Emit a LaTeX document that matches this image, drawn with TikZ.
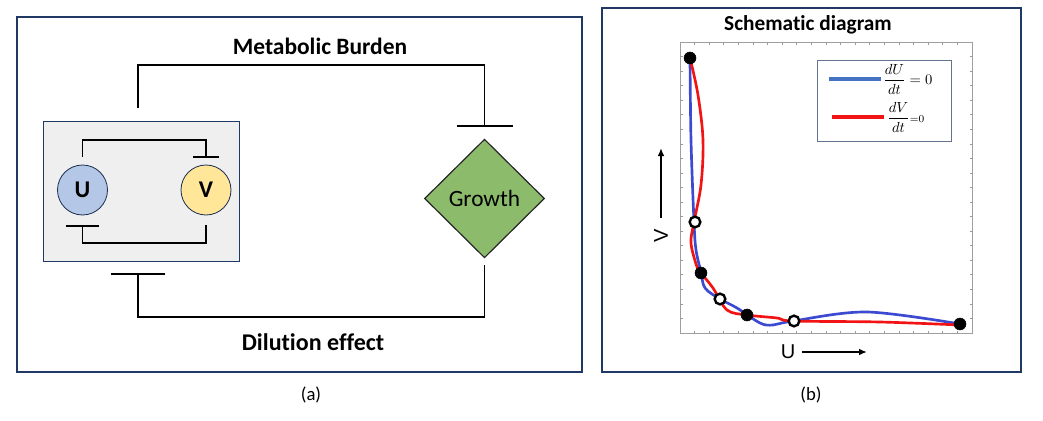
\documentclass[tikz,border=0pt]{standalone}
\usepackage{amsmath}
\usepackage{fontspec}
\setmainfont{Carlito}[Ligatures=NoCommon]
\setsansfont{Liberation Sans}
\usetikzlibrary{shapes.geometric,arrows.meta}
\definecolor{navy}{HTML}{203864}
\definecolor{boxgray}{HTML}{EFEFEF}
\definecolor{ufill}{HTML}{B4C7E7}
\definecolor{vfill}{HTML}{FFE699}
\definecolor{gfill}{HTML}{8DBB6C}
\definecolor{cblue}{HTML}{3B4AD0}
\definecolor{lblue}{HTML}{4472C4}
\definecolor{cred}{HTML}{F21414}
\tikzset{
  panel/.style={draw=navy,line width=0.8pt},
  conn/.style={line width=1.3pt,line join=miter},
  circ/.style={circle,draw=navy!80!black,line width=0.6pt,minimum size=37.5pt,inner sep=0pt,font=\fontsize{18}{21}\selectfont\bfseries},
  title/.style={font=\fontsize{17.6}{20}\selectfont\bfseries},
  caption/.style={font=\fontsize{14}{17}\selectfont},
  dotf/.style={circle,fill=black,draw=black,minimum size=9pt,inner sep=0pt},
  doto/.style={circle,fill=white,draw=black,line width=1.8pt,minimum size=8pt,inner sep=0pt},
  curve/.style={line width=2pt,smooth,tension=0.55}
}
\begin{document}
\begin{tikzpicture}[x=0.75pt,y=-0.75pt]
\useasboundingbox (0,0) rectangle (1043,421);
% ---------- panel (a)
\draw[panel] (17,17) rectangle (582,372);
\draw[panel,fill=boxgray,line width=0.7pt] (43,121) rectangle (239,261);
\node[circ,fill=ufill] (U) at (82.5,190) {U};
\node[circ,fill=vfill] (V) at (206,190) {V};
\node[diamond,draw=black!85,fill=gfill,line width=0.9pt,minimum width=90pt,minimum height=89pt,inner sep=0pt,font=\fontsize{17.5}{20}\selectfont] (G) at (484.5,198.5) {Growth};
\node[title] (mb) at (320,46) {Metabolic Burden};
\node[title,font=\fontsize{18}{21}\selectfont\bfseries] (de) at (313,342) {Dilution effect};
\node[caption] (ca) at (311,395) {(a)};
\coordinate (mbS) at (138,108);
\coordinate (mbE) at (484.5,127);
\draw[conn,-{Bar[width=42pt,line width=1.3pt]}] (mbS) -- (138,65) -- (484.5,65) -- (mbE);
\coordinate (deS) at (484.5,265);
\coordinate (deE) at (138,273);
\draw[conn,-{Bar[width=41pt,line width=1.3pt]}] (deS) -- (484.5,317) -- (138,317) -- (deE);
\coordinate (uvS) at (82.5,157);
\coordinate (uvE) at (206,158);
\draw[conn,-{Bar[width=20pt,line width=1.3pt]}] (uvS) -- (82.5,140) -- (206,140) -- (uvE);
\coordinate (vuS) at (206,225);
\coordinate (vuE) at (82.5,225);
\draw[conn,-{Bar[width=25pt,line width=1.3pt]}] (vuS) -- (206,243) -- (82.5,243) -- (vuE);
% ---------- panel (b)
\draw[panel] (602,8) rectangle (1021,372);
\node[title,font=\fontsize{16}{19}\selectfont\bfseries] (sd) at (808,25) {Schematic diagram};
\node[caption] (cb) at (811,395) {(b)};
\draw[gray!75,line width=0.6pt] (680,42) rectangle (972,333);
\foreach \i in {1,...,19}{
  \draw[gray!80,line width=0.5pt] (680+\i*14.6,42) -- ++(0,2.5);
  \draw[gray!80,line width=0.5pt] (680+\i*14.6,333) -- ++(0,-2.5);
  \draw[gray!80,line width=0.5pt] (680,42+\i*14.55) -- ++(2.5,0);
  \draw[gray!80,line width=0.5pt] (972,42+\i*14.55) -- ++(-2.5,0);
}
\draw[cblue,curve] plot coordinates {(690,58) (691,140) (694,222) (696,250) (701,272) (705,288) (720,299) (737,308) (760,323) (773,325) (793,321) (867,312) (960,324)};
\draw[cred,curve] plot coordinates {(690,58) (698,95) (703,140) (701,185) (694,222) (691,243) (697,267) (701,273) (713,288) (727,310) (747,315) (777,318) (793,321) (880,322) (960,325)};
\node[dotf] (f1) at (690,58) {};
\node[dotf] (f2) at (701,273) {};
\node[dotf] (f3) at (747,315) {};
\node[dotf] (f4) at (960,324) {};
\node[doto] (o1) at (695,222) {};
\node[doto] (o2) at (720,299) {};
\node[doto] (o3) at (794,321) {};
% legend
\draw[navy!70,line width=0.7pt,fill=white] (817,60) rectangle (951,141);
\coordinate (lb1) at (829,79); \coordinate (lb2) at (881,79);
\draw[lblue,line width=3pt] (lb1) -- (lb2);
\coordinate (lr1) at (832,117); \coordinate (lr2) at (884,117);
\draw[cred,line width=3.5pt] (lr1) -- (lr2);
\node[anchor=west,inner sep=0pt,font=\fontsize{11}{13}\selectfont] (lt1) at (883,79) {$\dfrac{dU}{dt}=0$};
\node[anchor=west,inner sep=0pt,font=\fontsize{11}{13}\selectfont] (lt2) at (887,117) {$\dfrac{dV}{dt}\scriptstyle =0$};
% axes labels
\coordinate (va) at (661,218); \coordinate (vb) at (661,148);
\draw[line width=1.3pt,-{Latex[length=6pt,width=5pt]}] (va) -- (vb);
\node[rotate=90,font=\sffamily\fontsize{15}{18}\selectfont] (vl) at (661,236) {V};
\coordinate (ua) at (802,352); \coordinate (ub) at (867,352);
\draw[line width=1.3pt,-{Latex[length=6pt,width=5pt]}] (ua) -- (ub);
\node[font=\sffamily\fontsize{15}{18}\selectfont] (ul) at (788,352) {U};
\end{tikzpicture}
\end{document}
